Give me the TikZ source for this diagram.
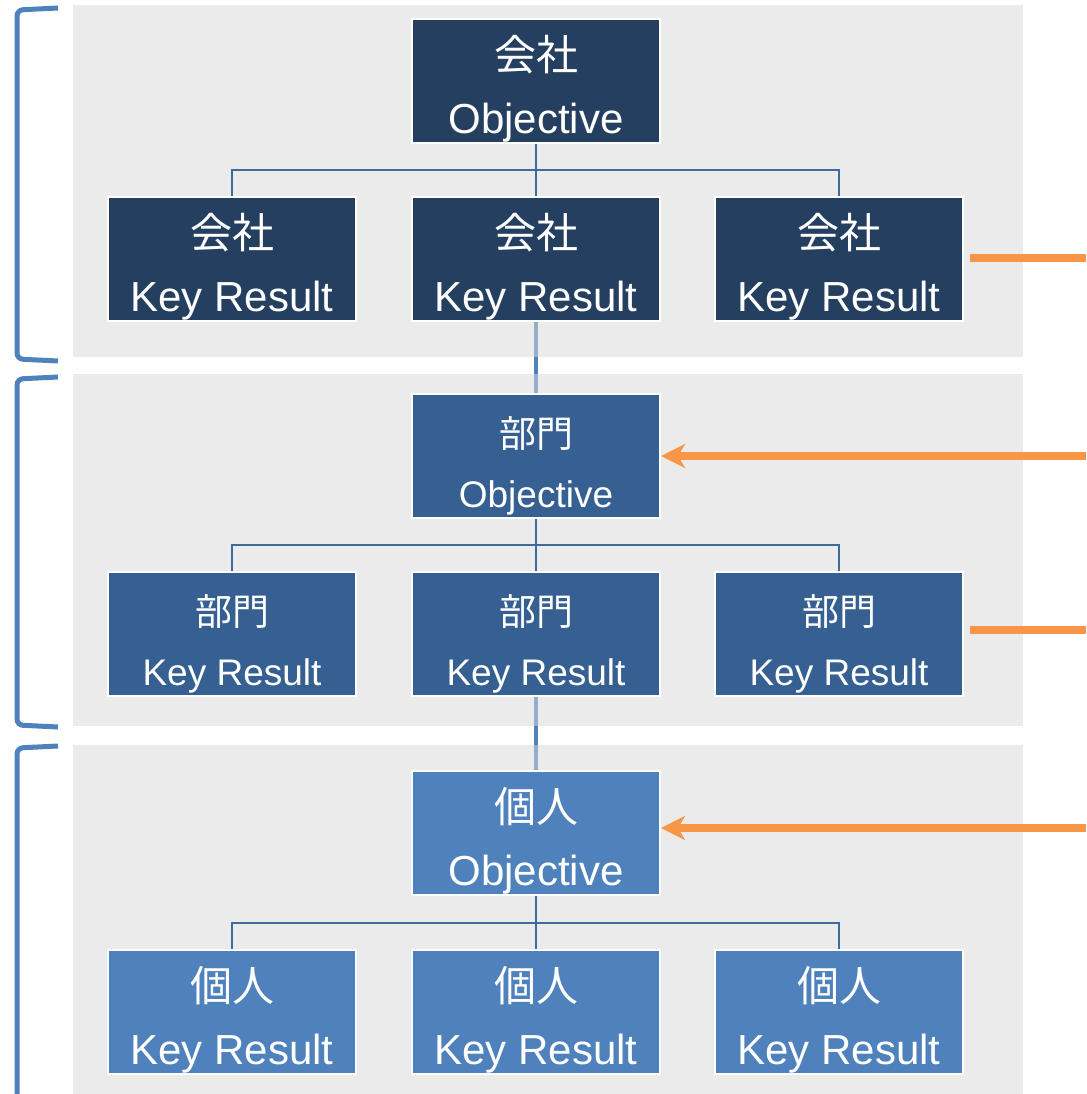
\documentclass[tikz,border=0pt]{standalone}
\usepackage{fontspec}
\setmainfont{Liberation Sans}
\newfontfamily\jp{Noto Sans CJK JP}
\usetikzlibrary{arrows.meta}
\definecolor{navy}{HTML}{243F60}
\definecolor{midblue}{HTML}{366092}
\definecolor{lightblue}{HTML}{4F81BD}
\definecolor{treeline}{HTML}{3F6A9C}
\definecolor{bandgray}{RGB}{216,216,216}
\definecolor{okrorange}{HTML}{F79646}
\pgfdeclarelayer{back}
\pgfdeclarelayer{bands}
\pgfsetlayers{back,bands,main}
\newcommand{\okrtext}[2]{{\jp\rule{0pt}{51pt}#1}\\#2}

\tikzset{
  okr/.style={draw=white, line width=2pt, minimum width=248pt, minimum height=124pt,
    inner sep=0pt, text=white, align=center},
  company/.style={okr, fill=navy, font=\fontsize{42}{63}\selectfont},
  dept/.style={okr, fill=midblue, font=\fontsize{37}{60}\selectfont},
  person/.style={okr, fill=lightblue, font=\fontsize{42}{63}\selectfont},
  tree/.style={draw=treeline, line width=2pt},
  link/.style={draw=lightblue, line width=4pt},
  band/.style={fill=bandgray, fill opacity=0.51},
  brace/.style={draw=lightblue, line width=5pt, rounded corners=6pt},
  feed/.style={draw=okrorange, line width=8pt},
  cascade/.style={feed, -{Stealth[length=24pt, width=24pt, inset=7pt]}},
}

\begin{document}
\begin{tikzpicture}[x=1pt, y=-1pt]
  \useasboundingbox (0,0) rectangle (1086,1094);

  % company level
  \node[company] (CO) at (536, 81) {\okrtext{会社}{Objective}};
  \node[company] (CK1) at (232, 259) {\okrtext{会社}{Key Result}};
  \node[company] (CK2) at (536, 259) {\okrtext{会社}{Key Result}};
  \node[company] (CK3) at (839, 259) {\okrtext{会社}{Key Result}};

  % department level
  \node[dept] (DO) at (536, 456) {\okrtext{部門}{Objective}};
  \node[dept] (DK1) at (232, 634) {\okrtext{部門}{Key Result}};
  \node[dept] (DK2) at (536, 634) {\okrtext{部門}{Key Result}};
  \node[dept] (DK3) at (839, 634) {\okrtext{部門}{Key Result}};

  % personal level
  \node[person] (PO) at (536, 833) {\okrtext{個人}{Objective}};
  \node[person] (PK1) at (232, 1012) {\okrtext{個人}{Key Result}};
  \node[person] (PK2) at (536, 1012) {\okrtext{個人}{Key Result}};
  \node[person] (PK3) at (839, 1012) {\okrtext{個人}{Key Result}};

  \coordinate (E1) at (1086, 258);
  \coordinate (E2) at (1086, 456);
  \coordinate (E3) at (1086, 630);
  \coordinate (E4) at (1086, 828);

  \begin{pgfonlayer}{back}
    \draw[link] (CK2) -- (DO);
    \draw[link] (DK2) -- (PO);
  \end{pgfonlayer}

  \begin{pgfonlayer}{bands}
    \fill[band] (73, 5) rectangle (1023, 357);
    \fill[band] (73, 374) rectangle (1023, 726);
    \fill[band] (73, 745) rectangle (1023, 1094);
  \end{pgfonlayer}

  \draw[tree] (CO) -- (CK2);
  \draw[tree] (CK1.north) -- ++(0,-26) -| (CK3.north);
  \draw[tree] (DO) -- (DK2);
  \draw[tree] (DK1.north) -- ++(0,-26) -| (DK3.north);
  \draw[tree] (PO) -- (PK2);
  \draw[tree] (PK1.north) -- ++(0,-26) -| (PK3.north);

  \draw[brace] (58, 8) -- (17, 10) -- (17, 359) -- (58, 361);
  \draw[brace] (58, 377) -- (17, 379) -- (17, 725) -- (58, 727);
  \draw[brace] (58, 746) -- (17, 748) -- (17, 1100) -- (58, 1102);

  \draw[feed] ([xshift=6pt]CK3.east |- E1) -- (E1);
  \draw[cascade] (E2) -- (E2 -| DO.east);
  \draw[feed] ([xshift=6pt]DK3.east |- E3) -- (E3);
  \draw[cascade] (E4) -- (E4 -| PO.east);
\end{tikzpicture}
\end{document}
